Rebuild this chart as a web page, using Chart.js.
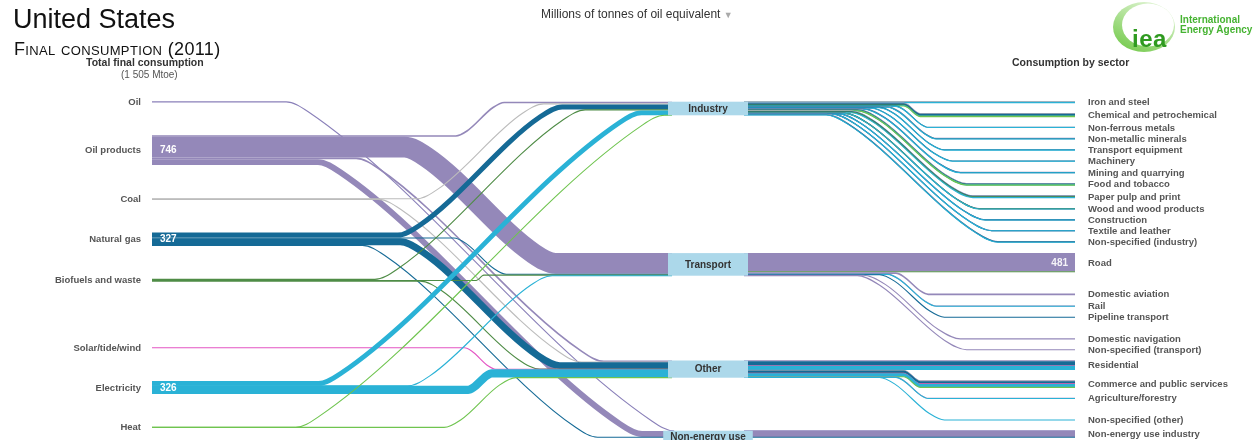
<!DOCTYPE html>
<html>
<head>
<meta charset="utf-8">
<script src="https://cdn.jsdelivr.net/npm/chart.js@4.4.1/dist/chart.umd.min.js"></script>
<style>
  body { margin: 0; background: #fff; font-family: "Liberation Sans", Arial, sans-serif; }
  #wrap { position: relative; width: 1254px; height: 440px; overflow: hidden; }
  #chart { position: absolute; left: 0; top: 0; }
  .t { position: absolute; white-space: nowrap; line-height: 1; }
</style>
</head>
<body>
<div id="wrap">
  <canvas id="chart" width="1254" height="440"></canvas>
  <div class="t" style="left:13px;top:6px;font-size:27px;color:#111">United States</div>
  <div class="t" style="left:14px;top:40px;font-size:18px;letter-spacing:0.35px;font-variant:small-caps;color:#111">Final consumption (2011)</div>
  <div class="t" style="left:541px;top:8px;font-size:12px;color:#333">Millions of tonnes of oil equivalent <span style="color:#aaa;font-size:9px">&#9660;</span></div>
  <div class="t" style="left:86px;top:57px;font-size:10.5px;font-weight:bold;color:#333">Total final consumption</div>
  <div class="t" style="left:121px;top:70px;font-size:10px;color:#555">(1 505 Mtoe)</div>
  <div class="t" style="left:1012px;top:57px;font-size:10.5px;font-weight:bold;color:#333">Consumption by sector</div>
  <svg class="t" style="left:1100px;top:0" width="154" height="60">
    <defs>
      <linearGradient id="ring" x1="0.8" y1="0" x2="0.2" y2="1">
        <stop offset="0" stop-color="#e4f6d8"/>
        <stop offset="1" stop-color="#74ca4c"/>
      </linearGradient>
      <mask id="cut">
        <rect x="0" y="0" width="154" height="60" fill="#fff"/>
        <ellipse cx="48" cy="25" rx="26" ry="21.5" fill="#000"/>
      </mask>
    </defs>
    <ellipse cx="44" cy="27" rx="31" ry="25" fill="url(#ring)" mask="url(#cut)"/>
    <text x="32" y="47" font-size="24" font-weight="bold" letter-spacing="0.5" fill="#2f9a20" font-family="Liberation Sans, Arial">iea</text>
    <text x="80" y="23" font-size="10" font-weight="bold" fill="#46b332" font-family="Liberation Sans, Arial">International</text>
    <text x="80" y="33" font-size="10" font-weight="bold" fill="#46b332" font-family="Liberation Sans, Arial">Energy Agency</text>
  </svg>
</div>
<script>
// ---- data (Mtoe, United States 2011) ----
const fuels = ['Oil', 'Oil products', 'Coal', 'Natural gas', 'Biofuels and waste', 'Solar/tide/wind', 'Electricity', 'Heat'];
const sectors = ['Industry', 'Transport', 'Other', 'Non-energy use'];
const subsectors = [
  'Iron and steel', 'Chemical and petrochemical', 'Non-ferrous metals', 'Non-metallic minerals',
  'Transport equipment', 'Machinery', 'Mining and quarrying', 'Food and tobacco',
  'Paper pulp and print', 'Wood and wood products', 'Construction', 'Textile and leather',
  'Non-specified (industry)',
  'Road', 'Domestic aviation', 'Rail', 'Pipeline transport', 'Domestic navigation', 'Non-specified (transport)',
  'Residential', 'Commerce and public services', 'Agriculture/forestry', 'Non-specified (other)',
  'Non-energy use industry'
];
const subsectorOf = [0, 0, 0, 0, 0, 0, 0, 0, 0, 0, 0, 0, 0, 1, 1, 1, 1, 1, 1, 2, 2, 2, 2, 3];

// use of each fuel by subsector, same order as subsectors
const oilUse         = [0, 0, 0, 0, 0, 0, 0, 0, 0, 0, 0, 0, 0,   0, 0, 0, 0, 0, 0,   0, 0, 0, 0,   8];
const oilProductsUse = [0, 8, 0, 3, 0, 0, 10, 2, 3, 4, 6, 1, 3,   453, 40, 11, 0, 8, 6,   20, 10, 10, 0,   148];
const coalUse        = [6, 2, 0, 5, 0, 0, 0, 3, 4, 0, 0, 0, 7,   0, 0, 0, 0, 0, 0,   0, 2, 0, 0,   0];
const gasUse         = [12, 45, 4, 8, 6, 6, 6, 18, 12, 2, 2, 2, 2,   0, 0, 0, 18, 0, 0,   104, 66, 0, 0,   14];
const biofuelUse     = [0, 1, 0, 0, 0, 0, 0, 3, 19, 2, 0, 0, 0,   28, 0, 0, 0, 0, 0,   5, 2, 0, 0,   0];
const solarUse       = [0, 0, 0, 0, 0, 0, 0, 0, 0, 0, 0, 0, 0,   0, 0, 0, 0, 0, 0,   1, 1, 0, 0,   0];
const electricityUse = [10, 22, 8, 4, 8, 9, 6, 13, 17, 4, 2, 3, 14,   0, 0, 1, 0, 0, 0,   110, 85, 2, 8,   0];
const heatUse        = [0, 2, 0, 0, 0, 0, 0, 1, 0, 0, 0, 0, 0,   0, 0, 0, 0, 0, 0,   0, 4, 0, 0,   0];
const useByFuel = [oilUse, oilProductsUse, coalUse, gasUse, biofuelUse, solarUse, electricityUse, heatUse];

// ---- layout & style ----
const fuelColors = ['#8a80b9', '#9488b9', '#bcbcbc', '#156a96', '#4f8c46', '#e455c4', '#2ab2d6', '#6fc44f'];
const extraGapBefore = ['Solar/tide/wind', 'Domestic aviation', 'Domestic navigation', 'Non-specified (other)'];
const TOP = 101.7, GAP_LEFT = 33.2, GAP_RIGHT = 10.6;
const X_SRC = 152, X_BOX_L = 668, X_BOX_R = 748, X_END = 1075;
const BEND_L = 480, BEND_R = 912, SLOPE_L = 0.9, SLOPE_R = 0.85;
const MIN_W = 1.1;
const FONT = '"Liberation Sans", Arial, sans-serif';

let layout = null;

const sum = (arr) => arr.reduce((a, b) => a + b, 0);

const nodesPlugin = {
  id: 'sankeyNodes',
  afterDatasetsDraw(chart) {
    if (!layout) return;
    const c = chart.ctx;
    const L = layout;
    c.save();
    c.textBaseline = 'middle';

    // sector boxes
    c.font = 'bold 10px ' + FONT;
    sectors.forEach((s, k) => {
      const h = Math.max(L.thick(L.sectorTotal[k]), 12);
      const tw = c.measureText(s).width;
      const bw = Math.max(X_BOX_R - X_BOX_L, tw + 14);
      const cx = (X_BOX_L + X_BOX_R) / 2;
      c.fillStyle = '#acd8ea';
      c.fillRect(cx - bw / 2, L.sectorTop[k], bw, h);
      c.fillStyle = '#333';
      c.textAlign = 'center';
      c.fillText(s, cx, L.sectorTop[k] + h / 2 + 0.5);
    });

    // left labels + values
    fuels.forEach((f, i) => {
      const h = L.thick(L.fuelTotal[i]);
      const cy = L.fuelTop[i] + h / 2;
      c.font = 'bold 9.5px ' + FONT;
      c.fillStyle = '#555';
      c.textAlign = 'right';
      c.fillText(f, 141, cy + 0.5);
      if (h >= 11) {
        c.font = 'bold 10px ' + FONT;
        c.fillStyle = '#fff';
        c.textAlign = 'left';
        c.fillText(Math.round(L.fuelTotal[i]), 160, cy + 0.5);
      }
    });

    // right labels + values
    subsectors.forEach((s, j) => {
      const h = L.thick(L.subTotal[j]);
      const cy = L.subTop[j] + h / 2;
      c.font = 'bold 9.5px ' + FONT;
      c.fillStyle = '#555';
      c.textAlign = 'left';
      c.fillText(s, 1088, cy + 0.5);
      if (h >= 11) {
        c.font = 'bold 10px ' + FONT;
        c.fillStyle = 'rgba(255,255,255,0.9)';
        c.textAlign = 'right';
        c.fillText(Math.round(L.subTotal[j]), 1068, cy + 0.5);
      }
    });
    c.restore();
  }
};

const chart = new Chart(document.getElementById('chart'), {
  type: 'line',
  data: { datasets: [] },
  options: {
    responsive: false,
    animation: false,
    events: [],
    layout: { padding: 0 },
    scales: {
      x: { type: 'linear', min: 0, max: 1254, display: false },
      y: { type: 'linear', min: 0, max: 11000, reverse: true, display: false }
    },
    plugins: { legend: { display: false }, tooltip: { enabled: false } }
  },
  plugins: [nodesPlugin]
});

const buildLinks = (chart) => {
  const ys = chart.scales.y;
  const xs = chart.scales.x;
  const thick = (v) => Math.abs(ys.getPixelForValue(v) - ys.getPixelForValue(0));
  const pt = (px, py) => ({ x: xs.getValueForPixel(px), y: ys.getValueForPixel(py) });

  const fuelTotal = useByFuel.map(sum);
  const subTotal = subsectors.map((s, j) => sum(useByFuel.map((arr) => arr[j])));
  const flow = useByFuel.map((arr) => sectors.map((s, k) => sum(arr.filter((v, j) => subsectorOf[j] === k))));
  const sectorTotal = sectors.map((s, k) => sum(subTotal.filter((v, j) => subsectorOf[j] === k)));

  // left column
  let y = TOP;
  const fuelTop = [];
  fuels.forEach((f, i) => {
    if (extraGapBefore.includes(f)) y += GAP_LEFT;
    fuelTop.push(y);
    y += thick(fuelTotal[i]) + GAP_LEFT;
  });
  // right column
  y = TOP;
  const subTop = [];
  subsectors.forEach((s, j) => {
    if (extraGapBefore.includes(s)) y += GAP_RIGHT;
    subTop.push(y);
    y += thick(subTotal[j]) + GAP_RIGHT;
  });
  // sector boxes sit level with their first subsector
  const sectorTop = sectors.map((s, k) => subTop[subsectorOf.indexOf(k)]);

  // horizontal - diagonal - horizontal, with rounded bends
  const route = (x0, y0, x1, y1, bend, slope) => {
    const dy = y1 - y0;
    if (Math.abs(dy) < 0.5) return [pt(x0, y0), pt(x1, y1)];
    const half = Math.abs(dy) / (2 * slope);
    const r = Math.min(11, half * 0.3);
    const sg = Math.sign(dy);
    const xa = bend - half, xb = bend + half;
    return [pt(x0, y0), pt(xa - r, y0), pt(xa + r, y0 + sg * r * slope),
            pt(xb - r, y1 - sg * r * slope), pt(xb + r, y1), pt(x1, y1)];
  };

  const links = [];
  // fuel -> sector
  const srcOff = fuels.map(() => 0);
  const dstOff = sectors.map(() => 0);
  fuels.forEach((f, i) => {
    sectors.forEach((s, k) => {
      const v = flow[i][k];
      if (!v) return;
      const w = thick(v);
      const y0 = fuelTop[i] + srcOff[i] + w / 2;
      srcOff[i] += w;
      const y1 = sectorTop[k] + dstOff[k] + w / 2;
      dstOff[k] += w;
      links.push({ pts: route(X_SRC, y0, X_BOX_L + 4, y1, BEND_L, SLOPE_L), color: fuelColors[i], w });
    });
  });
  // sector -> subsector, one strand per fuel
  const secOff = sectors.map(() => 0);
  subsectors.forEach((s, j) => {
    const k = subsectorOf[j];
    let off = 0;
    fuels.forEach((f, i) => {
      const v = useByFuel[i][j];
      if (!v) return;
      const w = thick(v);
      const y0 = sectorTop[k] + secOff[k] + w / 2;
      secOff[k] += w;
      const y1 = subTop[j] + off + w / 2;
      off += w;
      links.push({ pts: route(X_BOX_R - 4, y0, X_END, y1, BEND_R, SLOPE_R), color: fuelColors[i], w });
    });
  });

  chart.data.datasets = links.map((l, n) => ({
    data: l.pts,
    borderColor: l.color,
    borderWidth: Math.max(l.w, MIN_W),
    pointRadius: 0,
    pointHitRadius: 0,
    fill: false,
    cubicInterpolationMode: 'monotone',
    borderCapStyle: 'butt',
    borderJoinStyle: 'round',
    order: links.length - n
  }));

  layout = { thick, fuelTop, fuelTotal, subTop, subTotal, sectorTop, sectorTotal };
  chart.update();
};

buildLinks(chart);
</script>
</body>
</html>
